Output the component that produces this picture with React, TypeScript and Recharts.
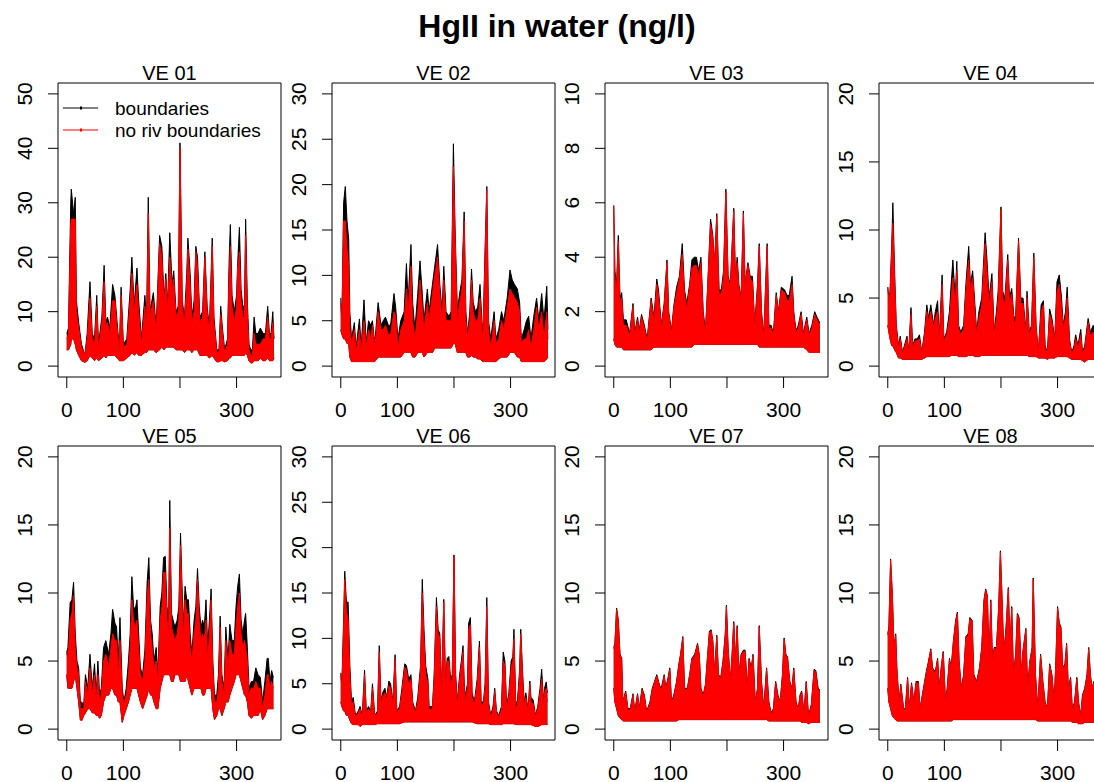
import React from 'react';
import { AreaChart, Area, XAxis, YAxis, ReferenceArea } from 'recharts';

// ---------------- data ----------------
const xTicks = [0, 100, 200, 300];
const xTickLabels = ['0', '100', '', '300'];
const panelTitles = ['VE 01', 'VE 02', 'VE 03', 'VE 04', 'VE 05', 'VE 06', 'VE 07', 'VE 08'];
const seriesNames = ['boundaries', 'no riv boundaries'];
const mainTitle = 'HgII in water (ng/l)';

const yTicks01 = [0, 10, 20, 30, 40, 50];
const yTicks02 = [0, 5, 10, 15, 20, 25, 30];
const yTicks03 = [0, 2, 4, 6, 8, 10];
const yTicks04 = [0, 5, 10, 15, 20];
const yTicks05 = [0, 5, 10, 15, 20];
const yTicks06 = [0, 5, 10, 15, 20, 25, 30];
const yTicks07 = [0, 5, 10, 15, 20];
const yTicks08 = [0, 5, 10, 15, 20];

// VE 01
const ve01Day = [0,3,7,8,12,15,17,21,26,32,
  36,41,45,49,53,56,62,66,69,72,
  76,81,85,89,93,96,100,106,112,115,
  119,124,127,132,138,141,144,147,153,158,
  164,168,172,175,178,182,186,189,193,197,
  200,204,208,212,214,218,221,225,228,231,
  235,240,244,248,252,257,260,265,269,272,
  275,279,284,287,289,292,296,300,302,305,
  308,311,314,316,319,322,325,328,331,334,
  338,342,347,351,355,358,361,364,366];
const ve01Black = [6,7,30,32.5,28,31,12,8,4,2,
  6,15.5,6,5,13,4,9,18.5,8,9,
  7,15,13,8,3,14.5,4,5,14,20,
  11,18,12,5,13,8,31,10,13.5,7,
  24,22,12,17,11,24.5,15,17.5,10,11,
  41,12,9,17,23.5,17,9,12,22,20,
  9,10,21,11,7,23.5,9,3,3,11,
  7,3,5,20,26,13,10,13,19,25.5,
  14,11,11,27,12,4,3,3,9,6,
  6,7,6,6,11,6,6,10,5];
const ve01Red = [5,6,26,27,27,27,10,7,3.5,2,
  5,12.5,5,4,11,3,8,15.5,7,8,
  6,12,12,7,2.5,13,3.5,4,12,17,
  10,15,10,4,11,7,28,9,12,6,
  22.5,20,11,16,10,20,14,16,9,10,
  40,11,8,15,21.5,15,8,10,21,18,
  8,9,20,10,6,22,8,2.5,2.5,9.5,
  6,2.5,4,17,22,11,8,11,18,21,
  12,9,9,24,10,3,2,2,6,4,
  4,4,5,5,9,5,5,8,5];
const ve01Low = [3,3,4,5,5,4,3,2,1,0.7,
  1,2,1.5,1,1.5,1,1.5,2,1.5,2,
  2,2,2,1.5,1,1,1,1.5,2,2.5,
  2,2.5,2,2,2.5,2.5,3,3,3,2.5,
  3,3.5,3,3.5,3.5,3.5,3.5,3.5,3,3,
  3,3,2.5,3,3,3,2.5,3,3,3,
  2,2,2,2,1.5,2,1.5,0.8,0.8,1,
  1,0.8,1,1.5,1.5,2,2,2,2,2,
  2,2,2,2.5,2,1,0.6,0.6,1,1,
  1,1.5,1,1,1.5,1,1,1,1.5];

// VE 02
const ve02Day = [0,2,5,8,11,14,16,19,24,27,
  33,36,41,45,49,53,56,60,66,71,
  75,79,84,88,94,97,101,106,112,116,
  119,124,127,131,136,140,144,147,153,156,
  162,166,171,175,179,182,186,191,195,199,
  202,206,210,214,218,221,224,228,231,234,
  238,242,246,251,255,258,261,265,271,274,
  279,284,288,294,299,303,307,312,316,319,
  324,328,332,336,341,346,350,355,359,364,
  366];
const ve02Black = [7.5,5,18,19.8,16,14,6,3,4.8,2,
  5.2,2,7.3,2.5,5,4.5,5,2.5,7,4.5,
  5,5.4,4.5,4.5,8,6.5,3,5,6,11.3,
  7,13.4,7,4,8,11.6,8,5,8.5,6,
  9,11,13.4,9,6,11,6,5.5,6,24.5,
  15,6,8,9.5,17,6,3.5,6,10.7,7,
  6,6.5,9,3,13,19.8,5,3,6,3,
  4,6,5,7.5,10.6,9.5,9,8.5,7,3,
  4,5,5.5,3,5.5,7.5,5,8,5,8.8,
  4];
const ve02Red = [7,4.5,16,16,13,11,4,2.5,4,1.5,
  4,1.5,5,2,4,3,4.5,2,6,4,
  4,4.5,3.5,3.5,6,5.5,2,4,5,8.5,
  6,11,5,3,6,9.5,6.5,4,7,5,
  8,10,12,8,5,9.5,5,5,5,22,
  14,5,7,8.5,16,5,3,5,9.5,6,
  5,5,7.5,2.5,12,19.5,4,2,5,2.5,
  3,5,4,6.5,8.5,8,7.5,7,6,2.5,
  3,3,4,2,4,6.5,4,6,3,6,
  3];
const ve02Low = [4,3.5,3,3,2.5,2.5,1,0.5,0.5,0.5,
  0.5,0.5,0.5,0.5,0.5,0.5,0.5,0.5,1,1,
  1,1,1,1,1,1,1,1,1.5,1.5,
  1.5,1.5,1,1,1.5,1.5,1.5,1,1.5,1.5,
  1.5,2,2,2,2,2,2,2,2,2.5,
  2.5,1.5,1.5,1.5,1.5,1.5,1,1,1.2,1,
  1,0.8,0.8,0.5,0.5,0.5,0.5,0.5,0.5,0.5,
  0.8,1,1,1,1.5,1.5,1.5,1,1,0.5,
  0.5,0.5,0.5,0.5,0.5,0.5,0.5,0.5,0.5,0.8,
  1];

// VE 03
const ve03Day = [0,2,5,8,11,14,17,22,28,34,
  37,42,45,49,54,59,66,71,76,79,
  84,89,94,97,102,106,111,116,121,125,
  129,134,138,142,146,150,154,158,162,166,
  171,175,178,182,186,190,194,198,202,206,
  212,215,218,221,225,229,232,237,241,245,
  249,254,257,261,265,271,274,278,282,287,
  291,296,302,306,310,315,318,322,326,331,
  335,341,345,350,355,359,364];
const ve03Black = [5.9,3.5,3,4.8,2.5,2.7,1.7,1.7,1.2,2.3,
  1.2,1.8,1.3,1.9,1.5,1.0,2.5,1.8,3.2,2.8,
  1.5,2.3,3.9,2,1.3,2.2,2.9,3.3,4.5,2.8,
  2.3,3,3.9,4,4,3.5,4,2,1.3,3,
  5.4,4.8,3.7,5.6,2.8,2.8,3.5,6.5,3.3,3,
  5.8,3.2,4,3,2.5,5.7,3,3.8,3.3,3.3,
  1.5,3,4.5,2,1.1,4.5,1.5,1.5,1.2,2.7,
  2,2.9,2.8,2.6,2.6,3.3,2,1.3,1.5,2,
  1.2,1.8,1.2,1.5,2,1.8,1.6];
const ve03Red = [5.9,3.2,2.8,4.6,2.3,2.5,1.5,1.5,1.1,2.2,
  1.1,1.7,1.2,1.8,1.4,0.9,2.4,1.6,3.0,2.6,
  1.4,2.2,3.8,1.9,1.2,2.1,2.7,3.2,4.1,2.6,
  2.1,2.9,3.6,3.7,3.7,3.3,3.8,1.9,1.2,2.9,
  5.2,4.7,3.6,5.5,2.7,2.6,3.3,6.4,3.2,2.9,
  5.7,3.1,3.8,2.9,2.4,5.6,2.9,3.7,3.2,3.1,
  1.4,2.9,4.4,1.9,1.0,4.4,1.4,1.4,1.1,2.6,
  1.9,2.8,2.7,2.4,2.4,3.0,1.9,1.2,1.4,1.9,
  1.1,1.7,1.1,1.4,1.9,1.7,1.5];
const ve03Low = [1,0.8,0.7,0.7,0.7,0.7,0.6,0.6,0.6,0.6,
  0.6,0.6,0.6,0.6,0.6,0.6,0.6,0.7,0.7,0.7,
  0.7,0.7,0.7,0.7,0.7,0.7,0.7,0.7,0.7,0.7,
  0.7,0.7,0.7,0.8,0.8,0.8,0.8,0.8,0.8,0.8,
  0.8,0.8,0.8,0.8,0.8,0.8,0.8,0.8,0.8,0.8,
  0.8,0.8,0.8,0.8,0.8,0.8,0.8,0.8,0.8,0.8,
  0.8,0.8,0.7,0.7,0.7,0.7,0.7,0.7,0.7,0.7,
  0.7,0.7,0.7,0.7,0.7,0.7,0.7,0.7,0.7,0.7,
  0.7,0.6,0.5,0.5,0.5,0.5,0.5];

// VE 04
const ve04Day = [0,2,4,7,9,12,15,19,22,26,
  34,37,41,44,48,52,56,60,65,69,
  72,76,81,84,88,91,96,99,104,109,
  112,115,119,122,125,129,134,138,143,146,
  150,154,157,161,166,172,175,179,184,188,
  192,195,200,203,207,212,215,219,223,226,
  231,235,239,244,246,250,254,258,262,266,
  271,275,278,282,286,290,295,299,303,307,
  310,314,317,321,325,329,332,336,341,344,
  348,354,358,363,366];
const ve04Black = [5.8,5,5.5,9,12,7,3,1.5,2.2,1,
  2.2,1,4.3,1.5,2,2,2.3,1,2.5,4.5,
  3.5,4.5,3,4,4.8,2,6.7,2,2.5,4,
  6,7.8,5,7.7,3,2.5,3,6,8.8,6,
  7,4.5,2.5,4,5,9.8,8,5,6.8,2.5,
  4,5.5,11.7,5.5,5,8.2,5,5.7,3.5,3.7,
  9.4,5,5,2.5,5.5,2.5,3,8.3,3,1,
  4.5,4.8,1.5,1,4.2,3.5,2,6.2,6.7,5,
  3,4,5.8,2,1,1.5,2.3,1.5,2.7,1,
  1.5,3.5,2.5,3,2];
const ve04Red = [5.8,4.8,5.3,8.5,10.5,6.5,2.8,1.3,2,0.9,
  2,0.9,3.8,1.3,1.8,1.9,2,0.9,2.3,4,
  3.3,4,2.8,3.5,4,1.8,6,1.8,2.3,3.5,
  5,6.5,4.5,7,2.8,2.3,2.7,5.5,7.8,5.5,
  6.5,4,2.3,3.5,4.5,9,7,4.5,6.2,2.3,
  3.5,5,11.5,5,4.5,7.8,4.5,5.3,3.2,3.3,
  9.2,4.6,4.6,2.3,5,2.3,2.8,8,2.8,0.9,
  4,4.5,1.3,0.9,3.8,3.2,1.8,5.5,6,4.3,
  2.8,3.5,5,1.8,0.9,1.3,2,1.3,2.3,0.9,
  1.3,3.2,2.2,2.5,1.8];
const ve04Low = [3,2.5,2,1.5,1.5,1.2,1,0.6,0.6,0.5,
  0.5,0.5,0.5,0.5,0.5,0.5,0.5,0.5,0.6,0.7,
  0.7,0.7,0.7,0.7,0.7,0.7,0.7,0.7,0.7,0.7,
  0.8,0.8,0.8,0.8,0.7,0.7,0.7,0.7,0.8,0.8,
  0.8,0.7,0.7,0.7,0.8,0.8,0.8,0.8,0.8,0.8,
  0.8,0.8,0.8,0.8,0.8,0.8,0.8,0.8,0.8,0.8,
  0.8,0.8,0.8,0.8,0.8,0.7,0.7,0.7,0.7,0.6,
  0.6,0.6,0.6,0.5,0.6,0.6,0.6,0.7,0.7,0.7,
  0.7,0.7,0.7,0.6,0.5,0.5,0.5,0.5,0.5,0.4,
  0.3,0.5,0.5,0.5,0.5];

// VE 05
const ve05Day = [0,2,6,9,12,15,18,21,24,26,
  30,33,37,41,45,49,52,55,58,61,
  65,69,74,78,81,85,88,91,94,98,
  101,105,109,112,115,118,121,124,127,130,
  134,138,142,145,148,151,154,158,161,165,
  168,171,174,177,180,182,185,188,191,195,
  198,201,204,206,209,212,215,218,221,225,
  228,231,234,237,240,243,246,249,252,255,
  258,261,265,268,271,274,278,281,285,288,
  292,296,299,302,305,308,311,314,316,319,
  322,326,330,334,338,342,346,350,354,356,
  359,362,365];
const ve05Black = [5.5,6,9.3,9.5,10.8,7,5,4.5,2,2,
  1.8,4,3,5.5,3,4.8,2.5,5,2.5,3,
  6,6.5,5.5,7,8.8,7.8,7.5,5,8.2,3,
  2,3,5,7,11.2,9,8.8,9.5,7,4.5,
  4,5.8,10.8,12.6,8,7,5,6,4,9,
  10,12.6,12.7,9,8,16.8,8.5,8,7.5,8,
  9,14.4,10,7.5,10.5,9.5,9.5,7,5.5,8,
  9,11.8,9,7.5,8,7.5,9.5,6,8,10.3,
  5,2.5,2.5,4,8.3,4,3,7.5,5,7.7,
  6.5,6.5,9,10.5,11.4,8,7,8,8.5,6,
  3,3.5,3.5,4.5,4,3.8,2,3.5,5.2,5.2,
  3.5,4.3,3.8];
const ve05Red = [5.8,5,8,8.5,9.8,6,4.5,4,1.5,1.5,
  1.5,3.5,2.5,4.5,2.5,4,2,4,2,2.5,
  5,5.5,4.5,6,7,6.5,6.5,4,6.5,2.5,
  1.8,2.5,4,6,9.5,8,7.5,8,6,4,
  3.5,5,9.8,11,7,6,4.5,5,3.5,8,
  9,11.5,11.5,8,7,14.8,7.5,7,6.5,7,
  8,13.5,9,6.5,9.5,8.5,8.5,6,5,7,
  8,11,8,6.5,7,6.5,8,5,7,9.5,
  4.5,2,2,3,7.5,3.5,2.5,6.5,4.5,6.5,
  5.5,5.5,7.5,9,10,7,6,6.5,6,5,
  2.5,3,3,3.5,3,3,1.5,2.5,4,4,
  3,3.5,3];
const ve05Low = [4,3,3,3,3.5,4,3,2,0.7,0.6,
  1,1.2,1.5,1.5,1.2,1.2,1,1,0.8,1,
  2,2.5,2.5,3,3,2.5,2.5,2,2,0.5,
  1,1.5,2,2.5,3,3,3,3,2.5,2,
  1.5,2,2.5,3,2.5,2.5,2,1.5,1.5,3,
  3.5,4,4,4,4,4,3.5,3.5,4,4,
  4,3.5,3.5,3.5,3.5,4,3.5,3,2.5,3,
  3,3,3,3,2.5,2.5,3,3,3,3,
  1.5,0.7,1,1.5,1.5,1,1.5,2,2,2.5,
  3,3.5,4,4,4,3.5,3,2.5,2.5,2,
  1,0.8,1,1,1,1.5,0.7,1,1.5,1.5,
  1.5,1.5,1.5];

// VE 06
const ve06Day = [0,2,5,7,10,13,16,19,22,26,
  31,34,38,42,45,49,53,56,60,65,
  68,71,74,78,81,85,88,92,96,99,
  104,108,113,116,120,124,127,132,136,141,
  144,147,150,154,156,162,165,169,172,175,
  178,182,185,188,191,194,197,200,203,206,
  210,213,216,219,224,226,229,232,236,241,
  245,248,252,255,258,261,265,269,272,275,
  279,284,287,290,293,297,301,304,306,309,
  312,316,318,321,324,327,331,334,336,340,
  344,348,352,355,358,360,363,365];
const ve06Black = [6.2,5,12,17.4,14,14,7,3,3.5,1.5,
  2,2.5,1.5,6.5,2,2.5,2,5,1.5,2,
  9.2,3,4,4.5,3.5,5.3,5,3,8.2,2,
  2.5,4.5,7.2,7,5.5,6,3,2,3.5,7,
  16.5,11,7,5.5,2.5,2.5,6,14.5,11,10.5,
  4,14.3,5,7.8,8,5.5,6,19.2,6,3,
  6,7.5,9.2,3.5,5,11.7,12.3,4,3,5.5,
  9.7,3,3,5,14.5,3,1.5,2.5,4.5,2,
  1.5,2.5,8.5,7.5,2.5,4,7.5,8,11,3,
  3,6.5,11,6.5,3,4,2,5.3,3.5,3.2,
  1.5,2.5,4.5,6.6,3,4.5,5.2,4];
const ve06Red = [6,4.5,11,16.5,13,12,6,2.5,3,1.3,
  1.8,2.2,1.3,6,1.8,2.2,1.8,4.5,1.3,1.8,
  8.5,2.7,3.6,4,3.2,4.8,4.5,2.7,7.8,1.8,
  2.2,4,6.8,6.5,5,5.5,2.7,1.8,3,6.5,
  15,10,6,5,2.2,2.2,5.5,13.5,10.5,10,
  3.5,14,4.5,7.5,7.5,5,5.5,19,5.5,2.7,
  5.5,7,8.5,3,4.5,11,11.5,3.5,2.7,5,
  9,2.7,2.7,4.5,13.5,2.7,1.3,2.2,4.2,1.8,
  1.3,2.2,7.5,7,2.2,3.5,6.8,7.5,10,2.5,
  2.5,6,10.5,6,2.5,3.5,1.8,5,3,2.8,
  1.3,2.2,4,5.5,2.5,4,4.5,3];
const ve06Low = [3,2.5,2,2,1.5,1.5,1,0.6,0.5,0.5,
  0.5,0.3,0.5,0.5,0.5,0.5,0.5,0.5,0.5,0.6,
  0.6,0.6,0.6,0.6,0.6,0.6,0.6,0.6,0.6,0.6,
  0.6,0.7,0.8,0.8,0.8,0.8,0.8,0.8,0.8,0.8,
  0.8,0.8,0.8,0.8,0.8,0.8,0.8,0.8,0.8,0.8,
  0.8,0.8,0.8,0.8,0.8,0.8,0.8,0.8,0.8,0.8,
  0.8,0.8,0.8,0.8,0.8,0.8,0.8,0.8,0.7,0.6,
  0.6,0.6,0.6,0.6,0.6,0.6,0.5,0.5,0.5,0.5,
  0.5,0.5,0.6,0.6,0.6,0.6,0.6,0.6,0.6,0.5,
  0.5,0.5,0.5,0.5,0.5,0.5,0.5,0.5,0.5,0.4,
  0.3,0.3,0.4,0.5,0.5,0.5,0.5,0.5];

// VE 07
const ve07Day = [0,2,5,8,11,14,16,21,25,29,
  34,37,42,45,50,54,58,64,68,72,
  76,81,84,89,92,96,99,102,106,111,
  115,118,122,125,130,134,138,143,148,151,
  154,158,162,165,169,172,175,178,182,185,
  189,193,197,199,202,206,209,212,215,218,
  221,225,229,232,236,239,243,246,250,254,
  257,261,265,270,274,278,282,286,290,294,
  298,301,304,307,311,315,318,322,326,329,
  332,336,340,344,349,354,357,361,364];
const ve07Black = [6,6.3,8.9,8,5.5,5.2,2,2.8,1.5,1.5,
  2.6,1.3,2.6,1.5,3,2.5,1.3,2,3,3.5,
  4,3.2,3,4,3,3.8,4.5,2,2.5,3.5,
  4.8,5.5,6.8,3,3,4,5.2,5.5,6.3,5.5,
  3,2.5,3.3,5,7.2,7.3,6.5,4,6.9,4,
  3.8,5,7,9.1,6,3.5,5.5,7.9,5,7.6,
  4,5.5,5.8,5.8,3,5.2,4.5,5.5,2,3,
  7.6,3.5,1.5,4.5,2,1.2,1.5,3.5,2.5,2,
  4,6.7,5.5,5.3,3.5,3,4.5,2,1.5,2.5,
  2.8,1.2,3.5,1,1.8,4.4,4.3,3,2.9];
const ve07Red = [5.9,6.2,8.8,7.9,5.4,5.1,1.9,2.7,1.4,1.4,
  2.5,1.2,2.5,1.4,2.9,2.4,1.2,1.9,2.9,3.4,
  3.9,3.1,2.9,3.9,2.9,3.7,4.4,1.9,2.4,3.4,
  4.7,5.4,6.7,2.9,2.9,3.9,5.1,5.4,6.2,5.4,
  2.9,2.4,3.2,4.9,7.1,7.2,6.4,3.9,6.8,3.9,
  3.7,4.9,6.9,9,5.9,3.4,5.4,7.8,4.9,7.5,
  3.9,5.4,5.7,5.7,2.9,5.1,4.4,5.4,1.9,2.9,
  7.5,3.4,1.4,4.4,1.9,1.1,1.4,3.4,2.4,1.9,
  3.9,6.6,5.4,5.2,3.4,2.9,4.4,1.9,1.4,2.4,
  2.7,1.1,3.4,0.9,1.7,4.3,4.2,2.9,2.8];
const ve07Low = [3,2,1.5,1,0.8,0.7,0.6,0.6,0.6,0.6,
  0.6,0.6,0.6,0.6,0.6,0.6,0.6,0.6,0.6,0.6,
  0.6,0.6,0.6,0.6,0.6,0.6,0.6,0.6,0.6,0.6,
  0.7,0.7,0.7,0.7,0.7,0.7,0.7,0.7,0.7,0.7,
  0.7,0.7,0.7,0.7,0.7,0.7,0.7,0.7,0.7,0.7,
  0.7,0.7,0.7,0.7,0.7,0.7,0.7,0.7,0.7,0.7,
  0.7,0.7,0.7,0.7,0.7,0.7,0.7,0.7,0.7,0.7,
  0.7,0.7,0.7,0.7,0.6,0.6,0.6,0.6,0.6,0.6,
  0.6,0.6,0.6,0.6,0.6,0.6,0.6,0.6,0.6,0.6,
  0.5,0.5,0.5,0.4,0.5,0.5,0.5,0.5,0.5];

// VE 08
const ve08Day = [0,2,5,8,11,14,16,20,23,28,
  31,35,38,42,46,50,54,57,63,68,
  72,76,79,84,88,91,95,98,102,105,
  109,112,116,120,123,126,130,134,138,142,
  145,149,152,157,162,166,170,173,176,179,
  182,185,188,192,196,199,202,205,209,213,
  216,219,222,226,229,232,236,239,244,247,
  251,255,257,261,265,270,274,278,282,286,
  290,294,297,300,303,306,309,313,316,319,
  323,326,330,334,337,341,344,348,352,355,
  358,361,364,366];
const ve08Black = [7,7.5,12.5,10,6,7,4.5,2,3.3,1.5,
  1.5,3.8,1.5,3.4,2,3.5,3.5,1.5,3,4.2,
  5,5.9,4.5,4.2,5.2,3,4.8,5.7,2,3,
  5.2,4.5,6.5,8,8.6,5,3,4,6.8,7,
  8.2,8,4,3.5,4.5,6,9.5,10.3,9.8,5,
  9.5,5,6,6,9,13.1,9.5,5.5,7.5,10.4,
  6,9,4,5.5,8.5,8.2,4,5.8,7.4,3,
  5,6,11.1,4,1.5,5.5,3.5,2,1.5,4.8,
  4,2,5,9,7.8,7.5,4.5,4.8,6.3,3,
  3.8,1.5,2,3.8,2,1,2.5,3,4,6,
  4,3,3.5,2.5];
const ve08Red = [6.9,7.4,12.4,9.9,5.9,6.9,4.4,1.9,3.2,1.4,
  1.4,3.7,1.4,3.3,1.9,3.4,3.4,1.4,2.9,4.1,
  4.9,5.8,4.4,4.1,5.1,2.9,4.7,5.6,1.9,2.9,
  5.1,4.4,6.4,7.9,8.5,4.9,2.9,3.9,6.7,6.9,
  8.1,7.9,3.9,3.4,4.4,5.9,9.4,10.2,9.7,4.9,
  9.4,4.9,5.9,5.9,8.9,13,9.4,5.4,7.4,10.3,
  5.9,8.9,3.9,5.4,8.4,8.1,3.9,5.7,7.3,2.9,
  4.9,5.9,11,3.9,1.4,5.4,3.4,1.9,1.4,4.7,
  3.9,1.9,4.9,8.9,7.7,7.4,4.4,4.7,6.2,2.9,
  3.7,1.4,1.9,3.7,1.9,0.9,2.4,2.9,3.9,5.9,
  3.9,2.9,3.4,2.4];
const ve08Low = [3,2,1.5,1,0.8,0.7,0.6,0.6,0.6,0.6,
  0.6,0.6,0.6,0.6,0.6,0.6,0.6,0.6,0.6,0.6,
  0.6,0.6,0.6,0.6,0.6,0.6,0.6,0.6,0.6,0.6,
  0.6,0.6,0.7,0.7,0.7,0.7,0.7,0.7,0.7,0.7,
  0.7,0.7,0.7,0.7,0.7,0.7,0.7,0.7,0.7,0.7,
  0.7,0.7,0.7,0.7,0.7,0.7,0.7,0.7,0.7,0.7,
  0.7,0.7,0.7,0.7,0.7,0.7,0.7,0.7,0.7,0.7,
  0.7,0.7,0.7,0.7,0.6,0.6,0.6,0.6,0.6,0.6,
  0.6,0.6,0.6,0.6,0.6,0.6,0.6,0.6,0.6,0.6,
  0.6,0.5,0.5,0.5,0.4,0.4,0.4,0.5,0.5,0.5,
  0.5,0.5,0.5,0.5];

// ---------------- layout / style ----------------
const FONT = '"Liberation Sans", Arial, Helvetica, sans-serif';
const COL_LEFT = [58, 332, 605, 879];
const ROW_TOP = [83, 446];
const BOX_W = 223;
const BOX_H = 294;
const AXIS_W = 58;
const TOP_PAD = 40;
const XAXIS_H = 45;
const RIGHT_PAD = 10;
const X_DOMAIN: [number, number] = [-15.5, 378.5];
const BLACK = '#000000';
const RED = '#ff0000';

const panels = [
  { days: ve01Day, black: ve01Black, red: ve01Red, low: ve01Low, yTicks: yTicks01 },
  { days: ve02Day, black: ve02Black, red: ve02Red, low: ve02Low, yTicks: yTicks02 },
  { days: ve03Day, black: ve03Black, red: ve03Red, low: ve03Low, yTicks: yTicks03 },
  { days: ve04Day, black: ve04Black, red: ve04Red, low: ve04Low, yTicks: yTicks04 },
  { days: ve05Day, black: ve05Black, red: ve05Red, low: ve05Low, yTicks: yTicks05 },
  { days: ve06Day, black: ve06Black, red: ve06Red, low: ve06Low, yTicks: yTicks06 },
  { days: ve07Day, black: ve07Black, red: ve07Red, low: ve07Low, yTicks: yTicks07 },
  { days: ve08Day, black: ve08Black, red: ve08Red, low: ve08Low, yTicks: yTicks08 },
];

const XTick = (props: any) => {
  const { x, y, payload } = props;
  const idx = xTicks.indexOf(payload.value);
  const label = idx >= 0 ? xTickLabels[idx] : String(payload.value);
  return (
    <g>
      <text x={x} y={y} dy="0.71em" textAnchor="middle" fontSize={21} fontFamily={FONT} fill="#000">
        {label}
      </text>
    </g>
  );
};

const YTick = (props: any) => {
  const { x, y, payload } = props;
  return (
    <g>
      <text x={x} y={y} transform={`rotate(-90 ${x} ${y})`} textAnchor="middle" fontSize={21} fontFamily={FONT} fill="#000">
        {String(payload.value)}
      </text>
    </g>
  );
};

function Panel({ index }: { index: number }) {
  const p = panels[index];
  const col = index % 4;
  const row = Math.floor(index / 4);
  const rows = p.days.map((d, i) => ({
    day: d,
    boundaries: [p.low[i], p.black[i]],
    noRiv: [p.low[i], p.red[i]],
  }));
  const yMax = p.yTicks[p.yTicks.length - 1];
  const yDomain: [number, number] = [-0.04 * yMax, 1.04 * yMax];
  return (
    <div style={{ position: 'absolute', left: COL_LEFT[col] - AXIS_W, top: ROW_TOP[row] - TOP_PAD }}>
      <AreaChart
        width={AXIS_W + BOX_W + RIGHT_PAD}
        height={TOP_PAD + BOX_H + XAXIS_H}
        data={rows}
        margin={{ top: TOP_PAD, right: RIGHT_PAD, bottom: 0, left: 0 }}
      >
        <XAxis
          type="number"
          dataKey="day"
          domain={X_DOMAIN}
          allowDataOverflow
          ticks={xTicks}
          interval={0}
          axisLine={false}
          tickLine={{ stroke: '#000', strokeWidth: 1 }}
          tickSize={11}
          tickMargin={14}
          height={XAXIS_H}
          tick={(tp: any) => <XTick {...tp} />}
        />
        <YAxis
          type="number"
          domain={yDomain}
          allowDataOverflow
          ticks={p.yTicks}
          interval={0}
          axisLine={false}
          tickLine={{ stroke: '#000', strokeWidth: 1 }}
          tickSize={10}
          tickMargin={16}
          width={AXIS_W}
          tick={(tp: any) => <YTick {...tp} />}
        />
        <Area
          type="linear"
          dataKey="boundaries"
          name={seriesNames[0]}
          stroke={BLACK}
          strokeWidth={1}
          fill={BLACK}
          fillOpacity={1}
          dot={false}
          activeDot={false}
          isAnimationActive={false}
        />
        <Area
          type="linear"
          dataKey="noRiv"
          name={seriesNames[1]}
          stroke={RED}
          strokeWidth={1}
          fill={RED}
          fillOpacity={1}
          dot={false}
          activeDot={false}
          isAnimationActive={false}
        />
        <ReferenceArea
          x1={X_DOMAIN[0]}
          x2={X_DOMAIN[1]}
          y1={yDomain[0]}
          y2={yDomain[1]}
          fill="none"
          fillOpacity={0}
          stroke="#000"
          strokeWidth={1}
          ifOverflow="visible"
        />
      </AreaChart>
    </div>
  );
}

export default function App() {
  return (
    <div
      style={{
        position: 'absolute',
        left: 0,
        top: 0,
        width: 1094,
        height: 782,
        overflow: 'hidden',
        background: '#fff',
        fontFamily: FONT,
      }}
    >
      {panels.map((_, i) => (
        <Panel key={i} index={i} />
      ))}
      <svg width={1094} height={782} style={{ position: 'absolute', left: 0, top: 0, pointerEvents: 'none' }}>
        <text x={557} y={37} textAnchor="middle" fontSize={32} fontWeight="bold" fontFamily={FONT} fill="#000">
          {mainTitle}
        </text>
        {panelTitles.map((t, i) => (
          <text
            key={t}
            x={COL_LEFT[i % 4] + BOX_W / 2}
            y={ROW_TOP[Math.floor(i / 4)] - 3}
            textAnchor="middle"
            fontSize={20}
            fontFamily={FONT}
            fill="#000"
          >
            {t}
          </text>
        ))}
        <g>
          <line x1={63} x2={98} y1={108} y2={108} stroke={BLACK} strokeWidth={1} />
          <rect x={80} y={106.5} width={2} height={3} fill={BLACK} />
          <text x={115} y={114.5} fontSize={19} fontFamily={FONT} fill="#000">{seriesNames[0]}</text>
          <line x1={63} x2={98} y1={130} y2={130} stroke={RED} strokeWidth={1} />
          <rect x={80} y={128.5} width={2} height={3} fill={RED} />
          <text x={115} y={136.5} fontSize={19} fontFamily={FONT} fill="#000">{seriesNames[1]}</text>
        </g>
      </svg>
    </div>
  );
}
